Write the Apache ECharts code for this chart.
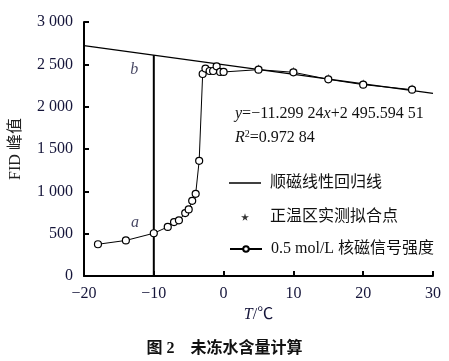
<!DOCTYPE html>
<html><head><meta charset="utf-8">
<script src="https://cdn.jsdelivr.net/npm/echarts@6/dist/echarts.min.js"></script>
<style>html,body{margin:0;padding:0;background:#fff}#c{width:449px;height:361px}</style>
</head><body><div id="c"></div>
<script>
// NMR signal intensity (0.5 mol/L) vs temperature
const tempNMR = [-18, -14, -10, -8, -7.1, -6.4, -5.5, -5.0, -4.5, -4.0, -3.5, -3.0, -2.6, -2.0, -1.5, -1.0, -0.5, 0, 5, 10, 15, 20, 27];
const signalNMR = [375, 420, 505, 580, 637, 657, 743, 786, 888, 970, 1360, 2386, 2450, 2421, 2421, 2476, 2410, 2410, 2437, 2406, 2323, 2260, 2201];
// positive-temperature fitted points
const tempFit = [5, 10, 15, 20, 27];
const signalFit = [2437, 2406, 2323, 2260, 2201];
// paramagnetic linear regression line endpoints
const regX = [-20, 30];
const regY = [2722, 2157];
// vertical marker at -10 °C
const vX = [-10, -10];
const vY = [0, 2609];
// point labels
const ptLabels = ['b', 'a'];
const ptLabelX = [-12.8, -12.7];
const ptLabelY = [2440, 633];
const xTicks = [-20, -10, 0, 10, 20, 30];
const yTicks = [0, 500, 1000, 1500, 2000, 2500, 3000];

const serif = '"Liberation Serif","Times New Roman","Noto Sans CJK SC",serif';
const txt = '#15153a';
const nameData = '0.5 mol/L 核磁信号强度', nameReg = '顺磁线性回归线', nameFit = '正温区实测拟合点';
const starPath = 'path://M50,0L61,35L98,35L68,57L79,91L50,70L21,91L32,57L2,35L39,35Z';

function fmtY(v){ const s = String(v); return s.length > 3 ? s.slice(0, s.length-3) + ' ' + s.slice(-3) : s; }
function fmtX(v){ return v < 0 ? '\u2212' + Math.abs(v) : String(v); }

const chart = echarts.init(document.getElementById('c'), null, {renderer:'canvas'});
chart.setOption({
  animation:false,
  backgroundColor:'#fff',
  textStyle:{fontFamily:serif},
  title:{text:'图 2　未冻水含量计算', left:'center', top:336,
    textStyle:{fontFamily:serif, fontSize:16, fontWeight:'bold', color:'#111'}},
  grid:{left:77, right:16, top:22, bottom:85},
  xAxis:{type:'value', min:xTicks[0], max:xTicks[xTicks.length-1], interval:10,
    name:'{i|T}/℃', nameLocation:'middle', nameGap:30,
    nameTextStyle:{fontFamily:serif, fontSize:16, color:txt, rich:{i:{fontStyle:'italic', fontFamily:serif, fontSize:16, color:txt}}},
    axisLine:{onZero:false, lineStyle:{color:'#000', width:2}},
    axisTick:{inside:true, length:5, lineStyle:{color:'#000', width:2}},
    axisLabel:{formatter:fmtX, fontSize:16, color:txt, margin:10, fontFamily:serif},
    splitLine:{show:false}},
  yAxis:{type:'value', min:yTicks[0], max:yTicks[yTicks.length-1], interval:500,
    name:'FID 峰值', nameLocation:'middle', nameGap:60, nameRotate:90,
    nameTextStyle:{fontFamily:serif, fontSize:16, color:'#222'},
    axisLine:{show:true, onZero:false, lineStyle:{color:'#000', width:2}},
    axisTick:{show:true, inside:true, length:5, lineStyle:{color:'#000', width:2}},
    axisLabel:{formatter:fmtY, fontSize:16, color:txt, margin:11, fontFamily:serif},
    splitLine:{show:false}},
  legend:[
    {data:[nameReg], left:229, top:175, padding:0, itemWidth:32, itemHeight:1.5, icon:'rect', orient:'vertical',
      itemStyle:{color:'#000'},
      textStyle:{fontFamily:serif, fontSize:16, color:'#111', padding:[0,0,0,4]}},
    {data:[{name:nameFit, icon:starPath}], left:241, top:209, padding:0, itemWidth:8, itemHeight:8, orient:'vertical',
      itemStyle:{color:'#000'},
      textStyle:{fontFamily:serif, fontSize:16, color:'#111', padding:[0,0,0,16]}},
    {data:[nameData], left:229, top:241, padding:0, itemWidth:32, itemHeight:7, orient:'vertical',
      textStyle:{fontFamily:serif, fontSize:16, color:'#111', padding:[0,0,0,4]}}
  ],
  graphic:[
    {type:'text', left:235, top:106, style:{
      text:'{i|y}=\u221211.299 24{i|x}+2 495.594 51',
      font:'16px ' + serif, fill:'#111',
      rich:{i:{fontStyle:'italic', fontFamily:serif, fontSize:16, fill:'#111'}}}},
    {type:'text', left:235, top:129, style:{
      text:'{i|R}{s|2}=0.972 84',
      font:'16px ' + serif, fill:'#111',
      rich:{i:{fontStyle:'italic', fontFamily:serif, fontSize:16, fill:'#111'},
            s:{fontFamily:serif, fontSize:10, fill:'#111', verticalAlign:'top', padding:[0,0,8,0]}}}}
  ],
  series:[
    {name:nameReg, type:'line', data:regX.map((x,i)=>[x, regY[i]]), symbol:'none',
      lineStyle:{color:'#000', width:1.3}, itemStyle:{color:'#000'}, z:2},
    {name:'vline', type:'line', data:vX.map((x,i)=>[x, vY[i]]), symbol:'none',
      lineStyle:{color:'#000', width:2}, z:2, silent:true},
    {name:nameFit, type:'scatter', data:tempFit.map((x,i)=>[x, signalFit[i]]), symbol:starPath, symbolSize:8,
      symbolOffset:[0,-1.5],
      itemStyle:{color:'#000'}, z:3},
    {name:nameData, type:'line', data:tempNMR.map((x,i)=>[x, signalNMR[i]]), symbol:'circle', symbolSize:7,
      showAllSymbol:true,
      lineStyle:{color:'#000', width:1}, itemStyle:{color:'#fff', borderColor:'#000', borderWidth:1.2}, z:4},
    {name:'labels', type:'scatter', data:ptLabelX.map((x,i)=>({value:[x, ptLabelY[i]], name:ptLabels[i]})),
      symbolSize:1, itemStyle:{color:'rgba(0,0,0,0)'},
      label:{show:true, position:'inside', formatter:p=>p.name, fontStyle:'italic', fontSize:16, color:txt, fontFamily:serif}, z:5}
  ]
});
</script></body></html>
